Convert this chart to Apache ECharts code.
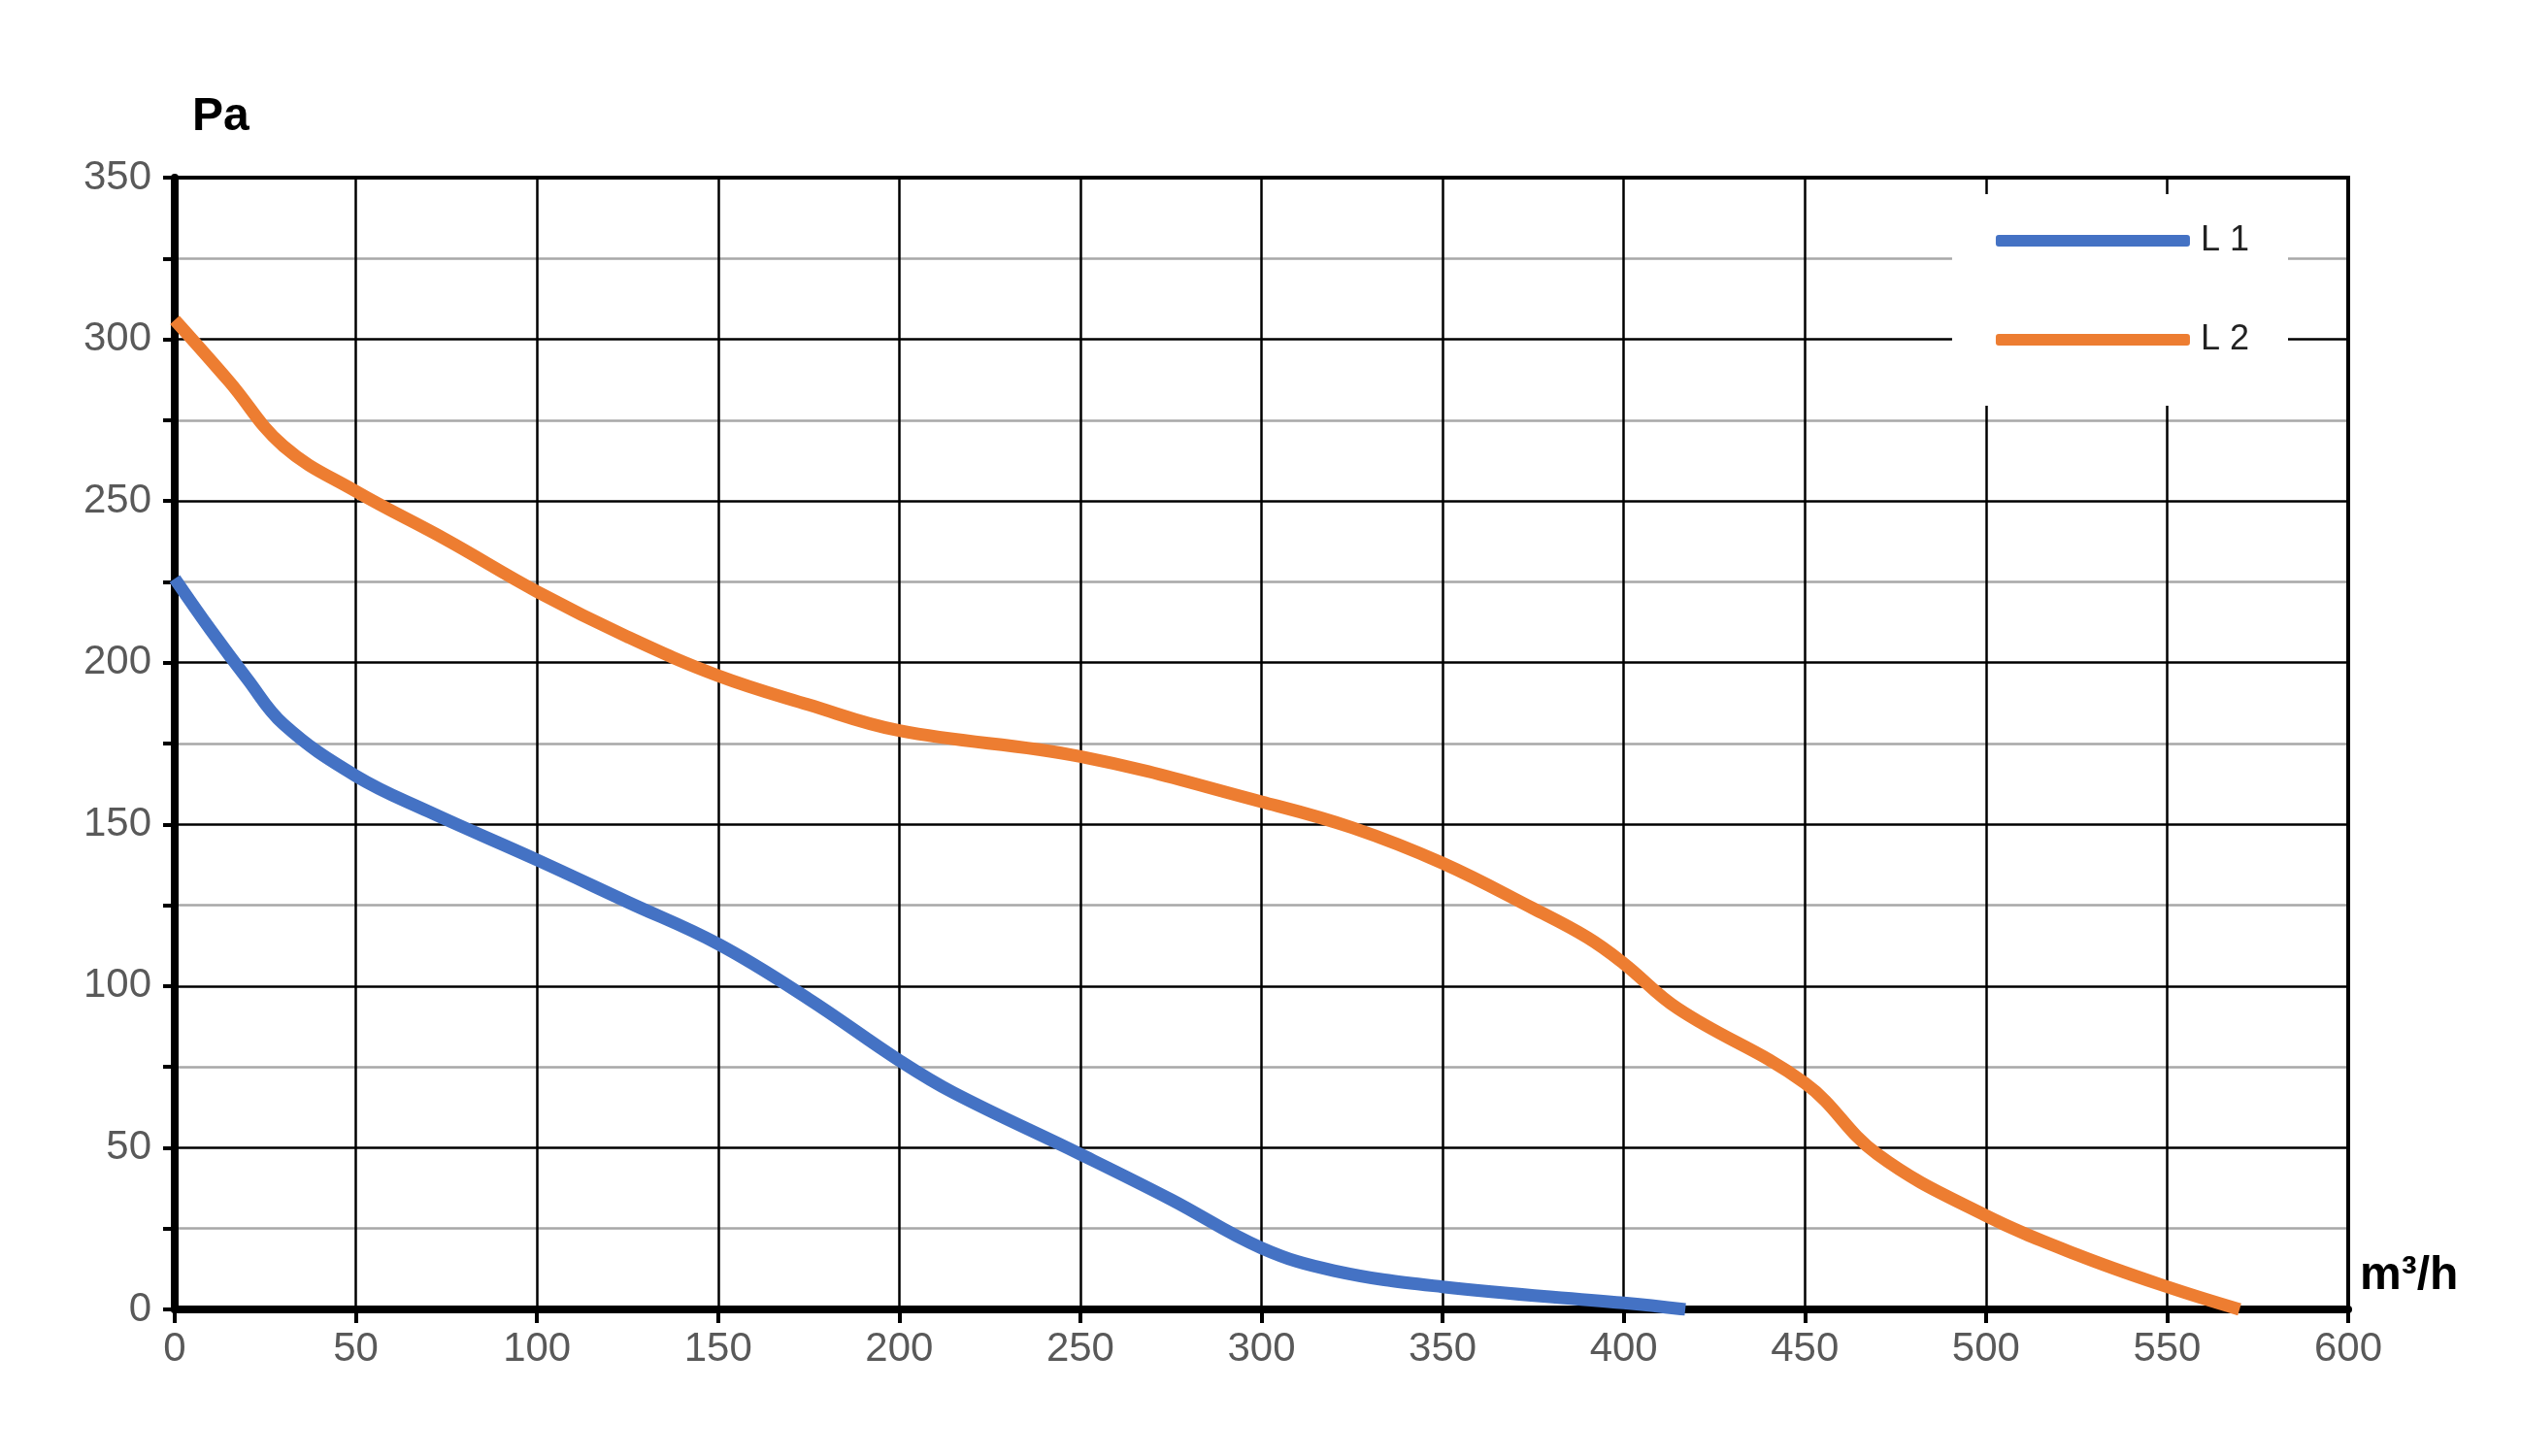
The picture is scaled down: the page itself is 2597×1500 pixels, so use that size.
<!DOCTYPE html>
<html><head><meta charset="utf-8">
<script src="https://cdn.jsdelivr.net/npm/echarts@6/dist/echarts.min.js"></script>
<style>html,body{margin:0;padding:0;background:#fff}#c{width:2597px;height:1500px}</style>
</head><body><div id="c"></div>
<script>
const seriesNames = ['L 1', 'L 2'];
const l1 = [[0,226],[10,210],[20,195],[30,181],[50,165],[70,154],[100,139],[125,126],[150,113],[175,96],[200,77],[215,67],[250,48],[275,34],[300,19],[320,12],[350,7],[400,2],[417,0]];
const l2 = [[0,306],[15,287],[30,267],[50,253],[75,238],[100,222],[125,208],[150,196],[175,187],[200,179],[250,171],[300,157],[325,149],[350,138],[375,124],[390,115],[400,107],[415,93],[450,70],[470,48],[500,29],[525,17],[550,7],[570,0]];
const colors = ['#4472C4', '#ED7D31'];
const chart = echarts.init(document.getElementById('c'));
const lbl = {color:'#595959', fontSize:42, fontFamily:'Liberation Sans, Arial'};
chart.setOption({
  animation:false,
  grid:{left:180, right:178, top:183, bottom:151},
  legend:{
    right:240, top:200, orient:'vertical', itemWidth:200, itemHeight:12, itemGap:66,
    backgroundColor:'#fff', padding:[30,40,50,45],
    icon:'roundRect',
    textStyle:{color:'#222', fontSize:36, fontFamily:'Liberation Sans, Arial', padding:[0,0,0,6]},
    data:seriesNames
  },
  xAxis:{type:'value', min:0, max:600, interval:50,
    axisLine:{lineStyle:{color:'#000', width:8}},
    axisTick:{show:true, length:14, lineStyle:{color:'#000', width:4}},
    axisLabel:Object.assign({margin:20}, lbl),
    splitLine:{lineStyle:{color:'#000', width:2.5}},
    name:'m³/h', nameLocation:'end', nameGap:12,
    nameTextStyle:{fontSize:48, fontWeight:'bold', color:'#000', fontFamily:'Liberation Sans, Arial', verticalAlign:'bottom', padding:[0,0,10,0]}
  },
  yAxis:{type:'value', min:0, max:350, interval:50,
    axisLine:{lineStyle:{color:'#000', width:8}},
    axisTick:{show:true, length:12, lineStyle:{color:'#000', width:4}},
    minorTick:{show:true, splitNumber:2, length:12, lineStyle:{color:'#000', width:4}},
    minorSplitLine:{show:true, lineStyle:{color:'#a8a8a8', width:2.5}},
    axisLabel:Object.assign({margin:24}, lbl),
    splitLine:{lineStyle:{color:'#000', width:2.5}},
    name:'Pa', nameLocation:'end', nameGap:38,
    nameTextStyle:{fontSize:48, fontWeight:'bold', color:'#000', fontFamily:'Liberation Sans, Arial', align:'left', padding:[0,0,0,18]}
  },
  graphic:[{type:'rect', shape:{x:180, y:183, width:2239, height:1166}, style:{fill:'none', stroke:'#000', lineWidth:4}, z:1, silent:true}],
  series:[
    {name:seriesNames[0], type:'line', data:l1, smooth:0.4, showSymbol:false, lineStyle:{width:13, color:colors[0]}, itemStyle:{color:colors[0]}, z:5},
    {name:seriesNames[1], type:'line', data:l2, smooth:0.4, showSymbol:false, lineStyle:{width:13, color:colors[1]}, itemStyle:{color:colors[1]}, z:5}
  ]
});
</script></body></html>
